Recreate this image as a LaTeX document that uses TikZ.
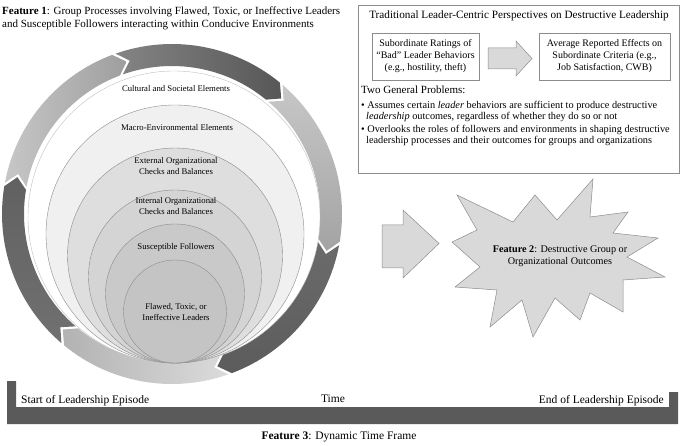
\documentclass[tikz,border=0pt]{standalone}
\usepackage{fontspec}
\setmainfont{Liberation Serif}
\definecolor{edgegray}{HTML}{8C8C8C}
\definecolor{bargray}{HTML}{5A5A5A}
\definecolor{boxfill}{HTML}{D9D9D9}
\newcommand{\ringpiece}[3][]{
  % one piece of the cycle, tail at #2 and head at #3 (degrees, clockwise)
  \shade[#1] (#2:170) arc[start angle=#2, end angle=#3, radius=170]
    -- ({#3+4}:159) -- (#3:148) arc[start angle=#3, end angle=#2, radius=148]
    -- ({#2+4}:159) -- cycle;
}
\tikzset{
  layer/.style={draw=edgegray, line width=0.4pt},
  lbl/.style={font=\fontsize{8.7}{10.5}\selectfont, align=center, inner sep=0pt},
  txt/.style={font=\fontsize{11}{13}\selectfont, inner sep=0pt},
  ratebox/.style={draw=edgegray, line width=0.5pt, font=\fontsize{10}{12}\selectfont, align=center}
}
\begin{document}
\begin{tikzpicture}[x=1pt, y=-1pt]
\useasboundingbox (0,0) rectangle (685,446);

% feature 1
\node[txt, anchor=north west, align=left] (feat1) at (2,7)
  {\textbf{Feature 1}: Group Processes involving Flawed, Toxic, or Ineffective Leaders\\
   and Susceptible Followers interacting within Conducive Environments};

\begin{scope}[shift={(172,214)}]
  \ringpiece[left color=black!22, right color=black!38]{-169.4}{-110.6}
  \ringpiece[left color=black!48, right color=black!66]{-109.4}{-50.6}
  \ringpiece[top color=black!22, bottom color=black!36]{-49.4}{9.4}
  \ringpiece[top color=black!58, bottom color=black!64]{10.6}{69.4}
  \ringpiece[left color=black!30, right color=black!14]{70.6}{129.4}
  \ringpiece[top color=black!62, bottom color=black!56]{130.6}{189.4}
\end{scope}

\filldraw[layer, draw=black!25, fill=white] (174,217) circle[radius=146];
\filldraw[layer, fill=black!6] (175,234) circle[radius=129];
\filldraw[layer, fill=black!13] (175,255.5) circle[radius=107.5];
\filldraw[layer, fill=black!17] (175,276.5) circle[radius=86.5];
\filldraw[layer, fill=black!21] (175,293.5) circle[radius=69.5];
\filldraw[layer, fill=black!23] (175,311.5) circle[radius=51.5];

\node[lbl] (cultural) at (176,89) {Cultural and Societal Elements};
\node[lbl] (macro) at (177,128) {Macro-Environmental Elements};
\node[lbl] (external) at (176,166) {External Organizational\\Checks and Balances};
\node[lbl] (internal) at (176,206) {Internal Organizational\\Checks and Balances};
\node[lbl] (followers) at (176,247) {Susceptible Followers};
\node[lbl] (leaders) at (176,312) {Flawed, Toxic, or\\Ineffective Leaders};

% traditional view
\draw[edgegray, line width=0.5pt] (358,5) rectangle (679,173);
\node[txt, font=\fontsize{11.2}{13}\selectfont] (tradtitle) at (519,16)
  {Traditional Leader-Centric Perspectives on Destructive Leadership};
\node[ratebox, minimum width=107pt, minimum height=47pt, inner sep=1pt] (ratings) at (425.5,56.5)
  {Subordinate Ratings of\\“Bad” Leader Behaviors\\(e.g., hostility, theft)};
\node[ratebox, minimum width=131pt, minimum height=47pt, inner sep=1pt] (effects) at (604.5,56.5)
  {Average Reported Effects on\\Subordinate Criteria (e.g.,\\Job Satisfaction, CWB)};
\filldraw[draw=edgegray, fill=boxfill, line width=0.5pt]
  (488,48) -- (516,48) -- (516,41) -- (532,58.5) -- (516,76) -- (516,69) -- (488,69) -- cycle;
\node[txt, anchor=west] (problems) at (361,90) {Two General Problems:};
\node[txt, anchor=north west, align=left, font=\fontsize{10.3}{11}\selectfont] (prob1) at (361,101)
  {\textbullet\ Assumes certain \emph{leader} behaviors are sufficient to produce destructive\\
   \hspace{5pt}\emph{leadership} outcomes, regardless of whether they do so or not};
\node[txt, anchor=north west, align=left, font=\fontsize{10.3}{11}\selectfont] (prob2) at (361,125)
  {\textbullet\ Overlooks the roles of followers and environments in shaping destructive\\
   \hspace{5pt}leadership processes and their outcomes for groups and organizations};

% feature 2
\filldraw[draw=edgegray, fill=boxfill, line width=0.5pt]
  (382,225) -- (403,225) -- (403,210) -- (439,243.5) -- (403,278) -- (403,268) -- (382,268) -- cycle;
\filldraw[draw=edgegray, fill=boxfill, line width=0.5pt]
  (452,242) -- (477,230) -- (457,195) -- (513,222) -- (535,195) -- (557,220) -- (593,179)
  -- (590,217) -- (628,212) -- (613,233) -- (658,238) -- (627,257) -- (665,277) -- (623,280)
  -- (623,312) -- (590,293) -- (580,320) -- (555,298) -- (533,337) -- (522,300) -- (490,327)
  -- (497,290) -- (455,287) -- (480,267) -- cycle;
\node[txt, align=center, font=\fontsize{10.2}{11.5}\selectfont] (feat2) at (560,256)
  {\textbf{Feature 2}: Destructive Group or\\Organizational Outcomes};

% feature 3
\fill[bargray] (7,381) -- (16,381) -- (16,407) -- (669,407) -- (669,392) -- (678,392)
  -- (678,424) -- (7,424) -- cycle;
\node[txt, anchor=west, font=\fontsize{11.5}{13}\selectfont] (start) at (21,401) {Start of Leadership Episode};
\node[txt, font=\fontsize{11.5}{13}\selectfont] (time) at (333,399) {Time};
\node[txt, anchor=east, font=\fontsize{11.5}{13}\selectfont] (end) at (664,401) {End of Leadership Episode};
\node[txt, font=\fontsize{11.5}{13}\selectfont] (feat3) at (339,437) {\textbf{Feature 3}: Dynamic Time Frame};
\end{tikzpicture}
\end{document}
